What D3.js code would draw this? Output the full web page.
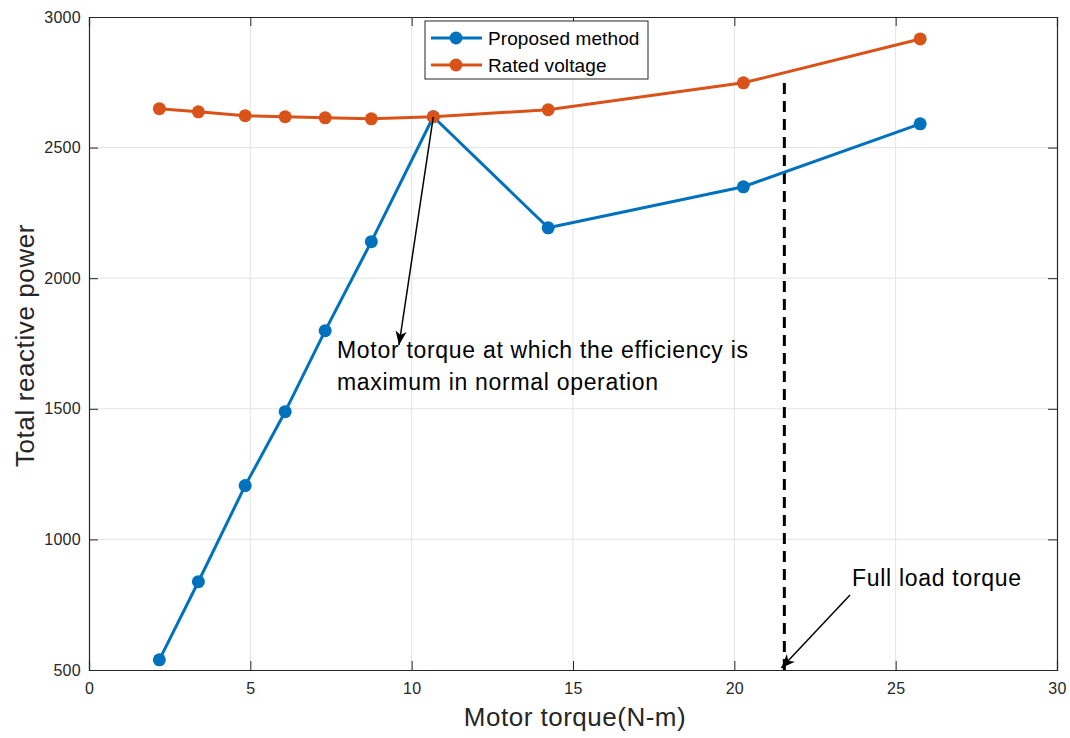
<!DOCTYPE html>
<html>
<head>
<meta charset="utf-8">
<script src="https://cdn.jsdelivr.net/npm/d3@7"></script>
<style>
  html, body { margin: 0; padding: 0; background: #fff; }
  svg { display: block; font-family: "Liberation Sans", Arial, sans-serif; }
</style>
</head>
<body>
<svg id="chart" width="1070" height="738"></svg>
<script>
// Motor torque (N-m) at each operating point
const torque = [2.18, 3.39, 4.84, 6.08, 7.32, 8.75, 10.67, 14.23, 20.28, 25.76];
// Total reactive power with the proposed method
const proposed = [539, 838, 1206, 1489, 1799, 2140, 2618, 2193, 2350, 2591];
// Total reactive power at rated voltage
const rated = [2649, 2637, 2622, 2618, 2614, 2610, 2618, 2645, 2748, 2916];
const seriesNames = ["Proposed method", "Rated voltage"];
const seriesColors = ["#0072BD", "#D95319"];
const xTicks = [0, 5, 10, 15, 20, 25, 30];
const yTicks = [500, 1000, 1500, 2000, 2500, 3000];
const fullLoadTorque = 21.55;
const peakTorque = 10.67, peakPower = 2618;

const svg = d3.select("#chart");
const L = 89, R = 1057, T = 17, B = 670;
const x = d3.scaleLinear().domain([0, 30]).range([L, R]);
const y = d3.scaleLinear().domain([500, 3000]).range([B, T]);

// grid
const grid = svg.append("g").attr("stroke", "#e3e3e3").attr("stroke-width", 1);
xTicks.slice(1, -1).forEach(t => grid.append("line")
  .attr("x1", x(t)).attr("x2", x(t)).attr("y1", T).attr("y2", B));
yTicks.slice(1, -1).forEach(t => grid.append("line")
  .attr("x1", L).attr("x2", R).attr("y1", y(t)).attr("y2", y(t)));

// axes (ticks pointing inward, box all around)
const tickLen = 9;
const xAxis = svg.append("g").attr("transform", `translate(0,${B})`)
  .call(d3.axisBottom(x).tickValues(xTicks).tickSize(-tickLen).tickPadding(13).tickFormat(d3.format("d")));
const xAxisTop = svg.append("g").attr("transform", `translate(0,${T})`)
  .call(d3.axisTop(x).tickValues(xTicks).tickSize(-tickLen).tickFormat(""));
const yAxis = svg.append("g").attr("transform", `translate(${L},0)`)
  .call(d3.axisLeft(y).tickValues(yTicks).tickSize(-tickLen).tickPadding(8).tickFormat(d3.format("d")));
const yAxisRight = svg.append("g").attr("transform", `translate(${R},0)`)
  .call(d3.axisRight(y).tickValues(yTicks).tickSize(-tickLen).tickFormat(""));
[xAxis, xAxisTop, yAxis, yAxisRight].forEach(g => {
  g.selectAll("path.domain").attr("stroke", "#262626").attr("stroke-width", 1.2);
  g.selectAll(".tick line").attr("stroke", "#262626").attr("stroke-width", 1);
  g.selectAll(".tick text").attr("fill", "#262626").attr("font-size", 16)
    .attr("letter-spacing", 0.3)
    .attr("font-family", "Liberation Sans, Arial, sans-serif");
});

// axis titles
svg.append("text").attr("x", (L + R) / 2 + 2).attr("y", 726).attr("text-anchor", "middle")
  .attr("font-size", 26).attr("letter-spacing", 0.5).attr("fill", "#262626").text("Motor torque(N-m)");
svg.append("text").attr("transform", `translate(34,${(T + B) / 2 + 2}) rotate(-90)`)
  .attr("text-anchor", "middle").attr("font-size", 26).attr("letter-spacing", 0.6).attr("fill", "#262626")
  .text("Total reactive power");

// full-load torque marker (dashed vertical, drawn upward from the axis)
const ratedAt = d3.scaleLinear().domain(torque).range(rated);
svg.append("line")
  .attr("x1", x(fullLoadTorque)).attr("x2", x(fullLoadTorque))
  .attr("y1", B).attr("y2", y(ratedAt(fullLoadTorque)) + 6)
  .attr("stroke", "#000").attr("stroke-width", 3).attr("stroke-dasharray", "11,7");

// series
const line = d3.line().x(d => x(d[0])).y(d => y(d[1]));
[proposed, rated].forEach((vals, i) => {
  const pts = torque.map((t, k) => [t, vals[k]]);
  const g = svg.append("g");
  g.append("path").attr("d", line(pts)).attr("fill", "none")
    .attr("stroke", seriesColors[i]).attr("stroke-width", 3).attr("stroke-linejoin", "round");
  g.selectAll("circle").data(pts).join("circle")
    .attr("cx", d => x(d[0])).attr("cy", d => y(d[1])).attr("r", 6.5)
    .attr("fill", seriesColors[i]);
});

// annotation arrows
function arrow(x1, y1, x2, y2) {
  svg.append("line").attr("x1", x1).attr("y1", y1).attr("x2", x2).attr("y2", y2)
    .attr("stroke", "#000").attr("stroke-width", 1.5);
  const a = Math.atan2(y2 - y1, x2 - x1);
  const len = 15, half = 0.38, back = 10;
  const p1 = [x2 - len * Math.cos(a - half), y2 - len * Math.sin(a - half)];
  const p2 = [x2 - back * Math.cos(a), y2 - back * Math.sin(a)];
  const p3 = [x2 - len * Math.cos(a + half), y2 - len * Math.sin(a + half)];
  svg.append("path").attr("d", `M${x2},${y2}L${p1}L${p2}L${p3}Z`).attr("fill", "#000");
}
arrow(x(peakTorque), y(peakPower), 399, 345);
arrow(850, 595, x(fullLoadTorque) - 3, B - 2);

const note = { size: 23, spacing: 0.7 };
svg.append("text").attr("x", 337).attr("y", 358).attr("font-size", note.size)
  .attr("letter-spacing", note.spacing).attr("fill", "#000")
  .text("Motor torque at which the efficiency is");
svg.append("text").attr("x", 337).attr("y", 390).attr("font-size", note.size)
  .attr("letter-spacing", note.spacing).attr("fill", "#000")
  .text("maximum in normal operation");
svg.append("text").attr("x", 852).attr("y", 586).attr("font-size", note.size)
  .attr("letter-spacing", note.spacing).attr("fill", "#000")
  .text("Full load torque");

// legend
const lg = svg.append("g");
lg.append("rect").attr("x", 425).attr("y", 21).attr("width", 223).attr("height", 58)
  .attr("fill", "#fff").attr("stroke", "#262626").attr("stroke-width", 1);
seriesNames.forEach((name, i) => {
  const cy = 38 + i * 27;
  lg.append("line").attr("x1", 431).attr("x2", 482).attr("y1", cy).attr("y2", cy)
    .attr("stroke", seriesColors[i]).attr("stroke-width", 3);
  lg.append("circle").attr("cx", 456).attr("cy", cy).attr("r", 6.5).attr("fill", seriesColors[i]);
  lg.append("text").attr("x", 488).attr("y", cy + 7).attr("font-size", 19)
    .attr("letter-spacing", 0.1).attr("fill", "#000").text(name);
});
</script>
</body>
</html>
